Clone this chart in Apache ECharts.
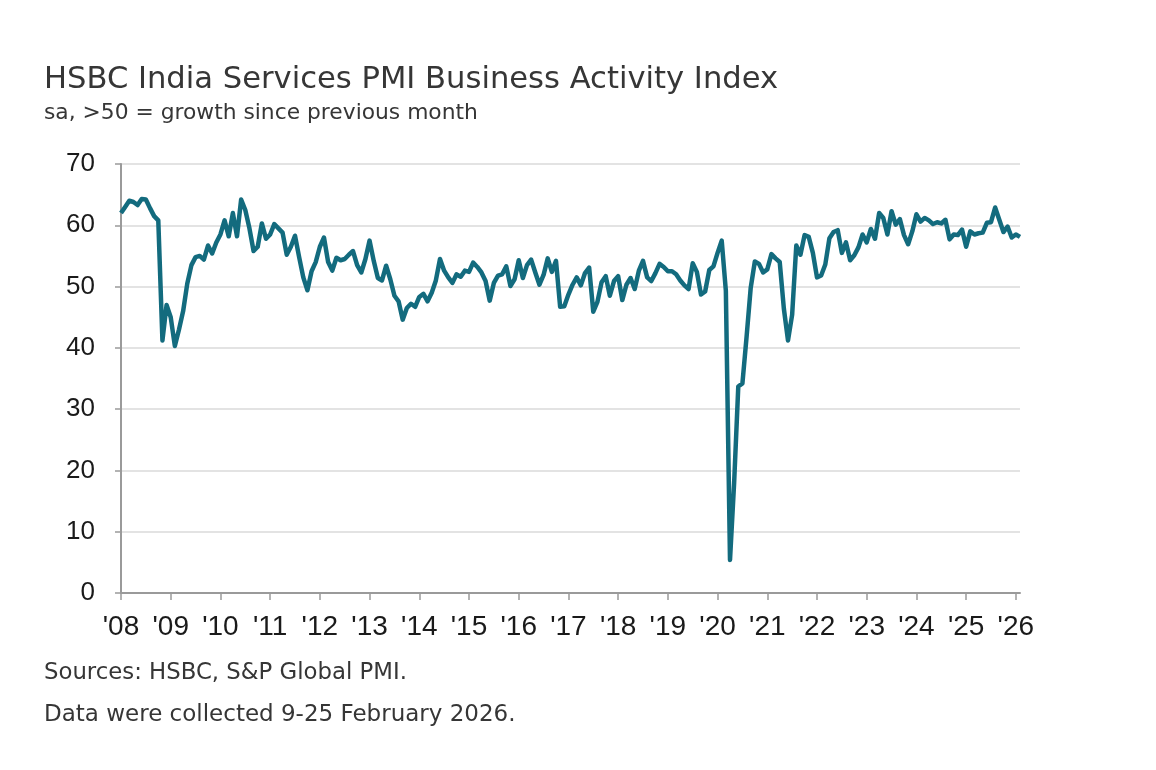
<!DOCTYPE html>
<html>
<head>
<meta charset="utf-8">
<title>HSBC India Services PMI</title>
<script src="https://cdn.jsdelivr.net/npm/echarts@6/dist/echarts.min.js"></script>
<style>
  html, body { margin: 0; padding: 0; background: #fff; }
  #chart { width: 1156px; height: 770px; }
</style>
</head>
<body>
<div id="chart"></div>
<script>
// monthly values (Jan..Dec)
const pmi2008 = [62.0, 63.0, 64.0, 63.8, 63.3, 64.3, 64.2, 62.8, 61.5, 60.8, 41.2, 47.0];
const pmi2009 = [45.0, 40.3, 43.0, 46.0, 50.5, 53.5, 54.8, 55.0, 54.4, 56.7, 55.4, 57.2];
const pmi2010 = [58.5, 60.8, 58.2, 62.0, 58.2, 64.2, 62.5, 59.5, 55.8, 56.5, 60.3, 57.8];
const pmi2011 = [58.5, 60.2, 59.5, 58.8, 55.2, 56.5, 58.3, 54.8, 51.5, 49.4, 52.5, 54.0];
const pmi2012 = [56.5, 58.0, 54.0, 52.6, 54.7, 54.3, 54.5, 55.2, 55.8, 53.5, 52.3, 54.5];
const pmi2013 = [57.5, 54.2, 51.4, 51.0, 53.4, 51.2, 48.5, 47.6, 44.6, 46.5, 47.2, 46.7];
const pmi2014 = [48.3, 48.8, 47.6, 49.0, 51.0, 54.5, 52.6, 51.5, 50.6, 52.0, 51.6, 52.6];
const pmi2015 = [52.4, 53.9, 53.2, 52.3, 50.9, 47.7, 50.6, 51.8, 52.0, 53.3, 50.1, 51.2];
const pmi2016 = [54.3, 51.4, 53.5, 54.4, 52.3, 50.3, 51.9, 54.6, 52.4, 54.2, 46.7, 46.8];
const pmi2017 = [48.7, 50.3, 51.5, 50.2, 52.2, 53.1, 45.9, 47.5, 50.7, 51.7, 48.5, 50.9];
const pmi2018 = [51.7, 47.8, 50.3, 51.4, 49.6, 52.6, 54.2, 51.5, 50.9, 52.2, 53.7, 53.2];
const pmi2019 = [52.5, 52.5, 52.0, 51.0, 50.2, 49.6, 53.8, 52.4, 48.7, 49.2, 52.7, 53.3];
const pmi2020 = [55.5, 57.5, 49.3, 5.4, 18.0, 33.7, 34.2, 41.8, 49.8, 54.1, 53.7, 52.3];
const pmi2021 = [52.8, 55.3, 54.6, 54.0, 46.4, 41.2, 45.4, 56.7, 55.2, 58.4, 58.1, 55.5];
const pmi2022 = [51.5, 51.8, 53.6, 57.9, 58.9, 59.2, 55.5, 57.2, 54.3, 55.1, 56.4, 58.5];
const pmi2023 = [57.2, 59.4, 57.8, 62.0, 61.2, 58.5, 62.3, 60.1, 61.0, 58.4, 56.9, 59.0];
const pmi2024 = [61.8, 60.6, 61.2, 60.8, 60.2, 60.5, 60.3, 60.9, 57.7, 58.5, 58.4, 59.3];
const pmi2025 = [56.5, 59.0, 58.5, 58.7, 58.8, 60.4, 60.5, 62.9, 60.9, 58.9, 59.8, 58.0];
const pmi2026 = [58.5, 58.1];

const years = [2008, 2009, 2010, 2011, 2012, 2013, 2014, 2015, 2016, 2017,
               2018, 2019, 2020, 2021, 2022, 2023, 2024, 2025, 2026];
const values = [].concat(pmi2008, pmi2009, pmi2010, pmi2011, pmi2012, pmi2013,
  pmi2014, pmi2015, pmi2016, pmi2017, pmi2018, pmi2019, pmi2020, pmi2021,
  pmi2022, pmi2023, pmi2024, pmi2025, pmi2026);

// month labels like 2008-01
const months = [];
years.forEach(y => {
  for (let m = 1; m <= 12; m++) {
    if (months.length < values.length) months.push(y + '-' + String(m).padStart(2, '0'));
  }
});
const isJan = (i, v) => v.slice(5) === '01';

const textFont = '"DejaVu Sans", sans-serif';
const axisFont = '"Liberation Sans", Arial, sans-serif';

const chart = echarts.init(document.getElementById('chart'));
chart.setOption({
  animation: false,
  backgroundColor: '#fff',
  grid: { left: 121, right: 136, top: 164, bottom: 177 },
  xAxis: {
    type: 'category',
    data: months,
    boundaryGap: false,
    axisLine: { lineStyle: { color: '#9a9a9a', width: 2 } },
    axisTick: { interval: isJan, length: 7, lineStyle: { color: '#9a9a9a', width: 1.5 } },
    axisLabel: {
      interval: isJan,
      margin: 20,
      fontSize: 28,
      fontFamily: axisFont,
      color: '#1a1a1a',
      formatter: v => "'" + v.slice(2, 4)
    },
    splitLine: { show: false }
  },
  yAxis: {
    type: 'value',
    min: 0,
    max: 70,
    interval: 10,
    axisLine: { show: true, lineStyle: { color: '#9a9a9a', width: 2 } },
    axisTick: { show: true, length: 6, lineStyle: { color: '#9a9a9a', width: 1.5 } },
    axisLabel: { fontSize: 26, fontFamily: axisFont, color: '#1a1a1a', margin: 26 },
    splitLine: { lineStyle: { color: '#dadada', width: 1.5 } }
  },
  series: [{
    type: 'line',
    data: values,
    showSymbol: false,
    lineStyle: { color: '#136b7e', width: 4.5, join: 'round' }
  }],
  graphic: [
    {
      type: 'text', x: 44, y: 80,
      style: { text: 'HSBC India Services PMI Business Activity Index', fontSize: 30.6,
               fill: '#363636', fontFamily: textFont, verticalAlign: 'middle' }
    },
    {
      type: 'text', x: 44, y: 113,
      style: { text: 'sa, >50 = growth since previous month', fontSize: 21.8,
               fill: '#363636', fontFamily: textFont, verticalAlign: 'middle' }
    },
    {
      type: 'text', x: 44, y: 673,
      style: { text: 'Sources: HSBC, S&P Global PMI.', fontSize: 22.8,
               fill: '#363636', fontFamily: textFont, verticalAlign: 'middle' }
    },
    {
      type: 'text', x: 44, y: 715,
      style: { text: 'Data were collected 9-25 February 2026.', fontSize: 23,
               fill: '#363636', fontFamily: textFont, verticalAlign: 'middle' }
    }
  ]
});
window.addEventListener('resize', () => chart.resize());
</script>
</body>
</html>
